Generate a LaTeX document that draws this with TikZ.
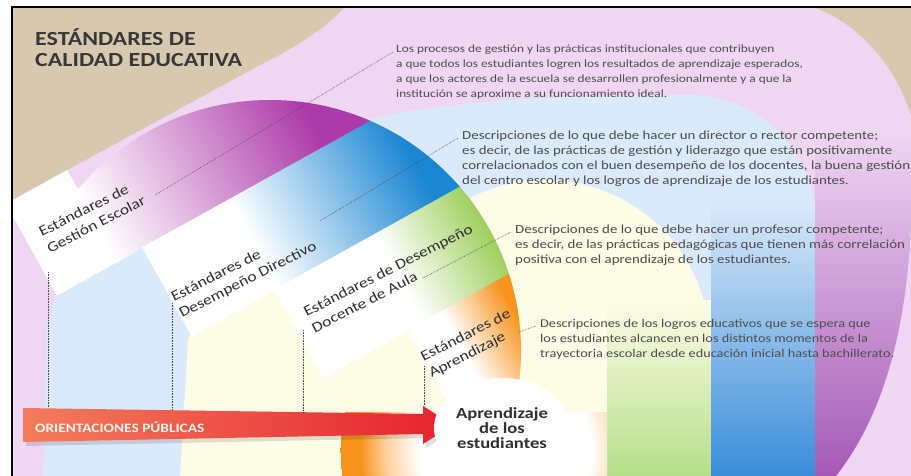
\documentclass[tikz,border=0pt]{standalone}
\usepackage{fontspec}
\setmainfont{Carlito}[FakeStretch=1.2]
\usetikzlibrary{calc,shapes.geometric}

\definecolor{beige}{HTML}{D6C9B0}
\definecolor{pinkbg}{HTML}{EFD7F3}
\definecolor{skybg}{HTML}{DAEAFA}
\definecolor{creambg}{HTML}{FDFCE6}
\definecolor{gestcol}{HTML}{AC3AA8}
\definecolor{dircol}{HTML}{1B86D1}
\definecolor{doccol}{HTML}{8DC63F}
\definecolor{aprcol}{HTML}{F7941D}
\definecolor{lightorange}{HTML}{FBD3A0}
\definecolor{greenbar}{HTML}{B6DF8A}
\definecolor{bluebar}{HTML}{3A8DD9}
\definecolor{purplebar}{HTML}{A55AB6}
\definecolor{txtgray}{HTML}{4D4D4D}
\definecolor{lblgray}{HTML}{2F2F2F}
\definecolor{arrowleft}{HTML}{F47C5C}
\definecolor{arrowright}{HTML}{E4222F}

\pgfdeclareradialshading{ringglow}{\pgfpoint{0bp}{0bp}}{color(0bp)=(white); color(13bp)=(white); color(18bp)=(lightorange); color(22bp)=(aprcol); color(25bp)=(aprcol)}

\tikzset{
  desc/.style={anchor=north west, inner sep=0pt, align=left, text=txtgray, font=\fontsize{12}{15}\selectfont},
  stdlabel/.style={rotate=27, inner sep=0pt, align=left, text=lblgray, font=\fontsize{14.5}{18}\selectfont},
  leader/.style={densely dotted, line width=0.6pt, draw=black!70},
  goalnode/.style={ellipse, fill=white, minimum width=136pt, minimum height=100pt, inner sep=0pt, align=center, text=lblgray, font=\bfseries\fontsize{15.5}{15}\selectfont},
}

\begin{document}
\begin{tikzpicture}[x=1pt,y=-1pt]
\useasboundingbox (0,0) rectangle (911,476);
\fill[white] (0,0) rectangle (911,476);
\begin{scope}
\clip (12,7) rectangle (911,476);
\fill[pinkbg] (12,7) rectangle (911,476);
% beige corners
\fill[beige] (12,7) -- (345,7) .. controls (325,28) and (300,45) .. (262,64) -- (12,200) -- cycle;
\fill[beige] (813,7) .. controls (855,22) and (893,60) .. (911,115) -- (911,7) -- cycle;
% arches
\fill[skybg] (43,476) -- (47,330) -- (57,290) -- (120,240) -- (300,140) .. controls (400,100) and (550,95) .. (690,95) arc[start angle=-90, end angle=0, radius=125] -- (815,476) -- cycle;
\fill[creambg] (180,476) -- (188,340) -- (200,300) -- (400,215) -- (470,198) arc[start angle=-117, end angle=0, radius=165] -- (710,476) -- cycle;
% vertical bars
\shade[top color=creambg, bottom color=greenbar] (607,300) rectangle (711,476);
\shade[top color=skybg, bottom color=bluebar] (711,200) rectangle (815,476);
\shade[top color=pinkbg, bottom color=purplebar] (815,130) -- (911,130) -- (911,230) .. controls (905,340) and (880,420) .. (836,476) -- (815,476) -- cycle;
% orange glow
\begin{scope}
\clip (330,412) rectangle (607,476);
\shade[shading=ringglow] (505,450) circle[radius=165];
\end{scope}
% diagonal stripes
\begin{scope}[transform canvas={shift={(13,200)},rotate=29}]
\fill[white] (-8,0) rectangle (62,105);
\end{scope}
\begin{scope}
\clip (270,351) circle[radius=251];
\begin{scope}[transform canvas={shift={(13,200)},rotate=29}]
\shade[left color=white, right color=gestcol] (60,0) rectangle (300,105);
\fill[gestcol] (299,0) rectangle (560,105);
\fill[white] (90,104) rectangle (191,206);
\shade[left color=white, right color=dircol] (190,104) rectangle (370,206);
\fill[dircol] (369,104) rectangle (560,206);
\fill[white] (185,205) rectangle (301,306);
\shade[left color=white, right color=doccol] (300,205) rectangle (420,306);
\fill[doccol] (419,205) rectangle (560,306);
\fill[white] (282,305) rectangle (321,410);
\shade[left color=white, right color=aprcol] (320,305) rectangle (385,410);
\fill[aprcol] (384,305) rectangle (560,410);
\end{scope}
\end{scope}
% arrow
\fill[black, opacity=0.12] (26,412) -- (426,418) -- (426,410) -- (456,429) -- (426,448) -- (426,438) -- (26,446) -- cycle;
\shade[left color=arrowleft, right color=arrowright] (23,408) -- (423,414) -- (423,406) -- (453,425) -- (423,444) -- (423,434) -- (23,442) -- cycle;
\end{scope}
% frame
\draw[line width=2.5pt] (12,476) -- (12,7) -- (911,7);

% title
\node[anchor=north west, inner sep=0pt, align=left, text=black!78, font=\bfseries\fontsize{20}{21}\selectfont] (title) at (35,29) {ESTÁNDARES DE\\CALIDAD EDUCATIVA};

% labels of the stripes
\node[stdlabel] (lblGestion) at (92,216) {Estándares de\\Gestión Escolar};
\node[stdlabel] (lblDirectivo) at (244,272) {Estándares de\\Desempeño Directivo};
\node[stdlabel] (lblDocente) at (392,278) {Estándares de Desempeño\\Docente de Aula};
\node[stdlabel] (lblAprendizaje) at (470,344) {Estándares de\\Aprendizaje};

% descriptions
\node[desc, font=\fontsize{11.1}{15}\selectfont] (txtGestion) at (396,45) {Los procesos de gestión y las prácticas institucionales que contribuyen\\a que todos los estudiantes logren los resultados de aprendizaje esperados,\\a que los actores de la escuela se desarrollen profesionalmente y a que la\\institución se aproxime a su funcionamiento ideal.};
\node[desc, font=\fontsize{12.4}{15}\selectfont] (txtDirectivo) at (462,131) {Descripciones de lo que debe hacer un director o rector competente;\\es decir, de las prácticas de gestión y liderazgo que están positivamente\\correlacionados con el buen desempeño de los docentes, la buena gestión\\del centro escolar y los logros de aprendizaje de los estudiantes.};
\node[desc, font=\fontsize{12.4}{15}\selectfont] (txtDocente) at (515,225) {Descripciones de lo que debe hacer un profesor competente;\\es decir, de las prácticas pedagógicas que tienen más correlación\\positiva con el aprendizaje de los estudiantes.};
\node[desc, font=\fontsize{11.9}{15}\selectfont] (txtAprendizaje) at (540,319) {Descripciones de los logros educativos que se espera que\\los estudiantes alcancen en los distintos momentos de la\\trayectoria escolar desde educación inicial hasta bachillerato.};

% leaders
\coordinate (gestTail) at (155,195);
\coordinate (dirTail) at (320,221);
\coordinate (docTail) at (423,278);
\coordinate (aprTail) at (519,332);
\draw[leader] (gestTail) -- ($(txtGestion.north west)+(-3,7)$);
\draw[leader] (dirTail) -- ($(txtDirectivo.north west)+(-4,7)$);
\draw[leader] (docTail) -- ($(txtDocente.north west)+(-4,7)$);
\draw[leader] (aprTail) -- ($(txtAprendizaje.north west)+(-4,7)$);
\foreach \nm/\xx/\ya/\yb in {gest/48/272/407, dir/172/303/410, doc/303/330/412, apr/424/366/406}{
  \coordinate (\nm Top) at (\xx,\ya);
  \coordinate (\nm Foot) at (\xx,\yb);
  \draw[leader] (\nm Top) -- (\nm Foot);
}

% centre and arrow text
\node[goalnode] (logro) at (502,428) {Aprendizaje\\de los\\estudiantes};
\node[anchor=west, inner sep=0pt, text=white!92!orange, font=\bfseries\fontsize{12.8}{14}\selectfont] (orient) at (35,427) {ORIENTACIONES PÚBLICAS};
\end{tikzpicture}
\end{document}
